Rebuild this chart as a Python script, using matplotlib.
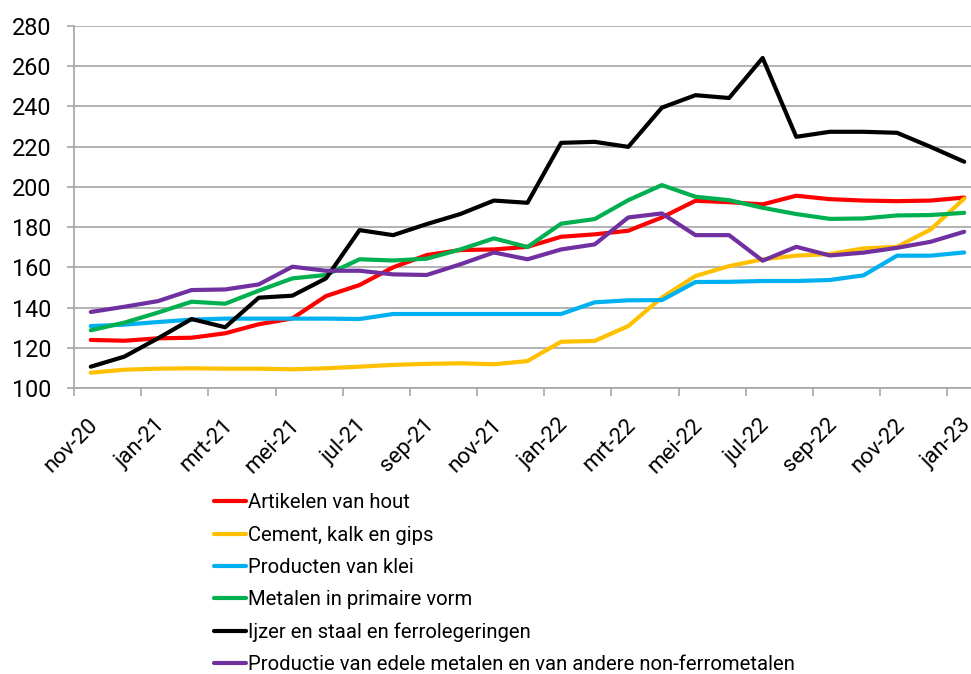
import numpy as np
import matplotlib
matplotlib.use("Agg")
import matplotlib.pyplot as plt
from matplotlib.transforms import ScaledTranslation

plt.rcParams["font.family"] = ["Roboto", "DejaVu Sans"]

months = ["nov-20", "dec-20", "jan-21", "feb-21", "mrt-21", "apr-21", "mei-21", "jun-21",
          "jul-21", "aug-21", "sep-21", "okt-21", "nov-21", "dec-21", "jan-22", "feb-22",
          "mrt-22", "apr-22", "mei-22", "jun-22", "jul-22", "aug-22", "sep-22", "okt-22",
          "nov-22", "dec-22", "jan-23"]

hout = [123.9, 123.5, 124.7, 125.0, 127.2, 131.7, 134.6, 145.7, 151.2, 160.0, 166.1, 168.6,
        168.9, 170.2, 175.2, 176.4, 178.2, 184.8, 193.1, 192.4, 191.3, 195.6, 193.9, 193.2,
        192.9, 193.2, 194.7]
cement = [107.6, 109.1, 109.6, 109.8, 109.6, 109.6, 109.3, 109.8, 110.6, 111.5, 112.0, 112.3,
          111.8, 113.4, 123.0, 123.4, 130.8, 145.0, 155.7, 160.6, 164.0, 165.8, 166.6, 169.4,
          170.2, 178.8, 194.2]
klei = [130.8, 131.5, 132.8, 134.0, 134.5, 134.5, 134.5, 134.5, 134.3, 136.8, 136.8, 136.8,
        136.8, 136.8, 136.8, 142.6, 143.6, 143.7, 152.7, 152.8, 153.2, 153.2, 153.7, 156.0,
        165.8, 165.8, 167.4]
metalen = [128.7, 132.5, 137.5, 142.9, 141.9, 148.4, 154.5, 156.2, 164.0, 163.4, 164.3, 168.9,
           174.4, 170.1, 181.7, 184.0, 193.4, 200.9, 195.1, 193.4, 189.6, 186.5, 184.1, 184.3,
           185.8, 186.0, 187.1]
ijzer = [110.6, 115.6, 124.7, 134.3, 130.2, 144.9, 145.9, 154.5, 178.5, 176.0, 181.5, 186.5,
         193.2, 192.1, 221.9, 222.4, 219.9, 239.4, 245.6, 244.2, 264.1, 224.9, 227.4, 227.4,
         226.9, 219.9, 212.5]
edel = [137.8, 140.4, 143.2, 148.7, 149.0, 151.5, 160.3, 158.3, 158.3, 156.5, 156.2, 161.5,
        167.4, 164.0, 168.9, 171.4, 184.8, 186.8, 176.0, 176.0, 163.3, 170.2, 165.9, 167.3,
        169.7, 172.7, 177.7]

series = [
    ("Artikelen van hout", hout, "#FF0000"),
    ("Cement, kalk en gips", cement, "#FFC000"),
    ("Producten van klei", klei, "#00B0F0"),
    ("Metalen in primaire vorm", metalen, "#00B050"),
    ("Ijzer en staal en ferrolegeringen", ijzer, "#000000"),
    ("Productie van edele metalen en van andere non-ferrometalen", edel, "#7030A0"),
]

W, H = 971, 674
fig = plt.figure(figsize=(W / 100, H / 100), dpi=100)
# axis runs past the right edge of the picture, as in the original
ax = fig.add_axes([74 / W, 1 - 388 / H, 907 / W, 362 / H])

x = np.arange(len(months))
for name, vals, col in series:
    ax.plot(x, vals, color=col, lw=3, label=name, solid_capstyle="round", solid_joinstyle="round")

grid = "#A6A6A6"
ax.set_xlim(-0.5, len(months) - 0.5)
ax.set_ylim(100, 280)
ax.set_yticks(np.arange(100, 281, 20))
ax.yaxis.grid(True, color=grid, lw=1.2)
ax.set_axisbelow(True)
for s in ["top", "right"]:
    ax.spines[s].set_visible(False)
for s in ["left", "bottom"]:
    ax.spines[s].set_color(grid)
    ax.spines[s].set_linewidth(1.2)

ax.tick_params(axis="y", length=5, color=grid, width=1.2, labelsize=16.8, pad=11)
ax.set_xticks(x[::2])
ax.set_xticklabels(months[::2], rotation=45, ha="right", rotation_mode="anchor", fontsize=16)
ax.tick_params(axis="x", which="major", length=0, pad=19)
shift = ScaledTranslation(-3 / 100, 0, fig.dpi_scale_trans)
for lab in ax.get_xticklabels():
    lab.set_transform(lab.get_transform() + shift)
ax.set_xticks(np.arange(-0.5, len(months), 2), minor=True)
ax.tick_params(axis="x", which="minor", length=6, color=grid, width=1.2)

fig.legend(loc="upper left", bbox_to_anchor=(214 / W, 1 - 493.5 / H), frameon=False,
           fontsize=14.6, handlelength=1.6, handletextpad=0.08, labelspacing=0.655,
           borderaxespad=0, borderpad=0)

fig.savefig("out.png", dpi=100)
